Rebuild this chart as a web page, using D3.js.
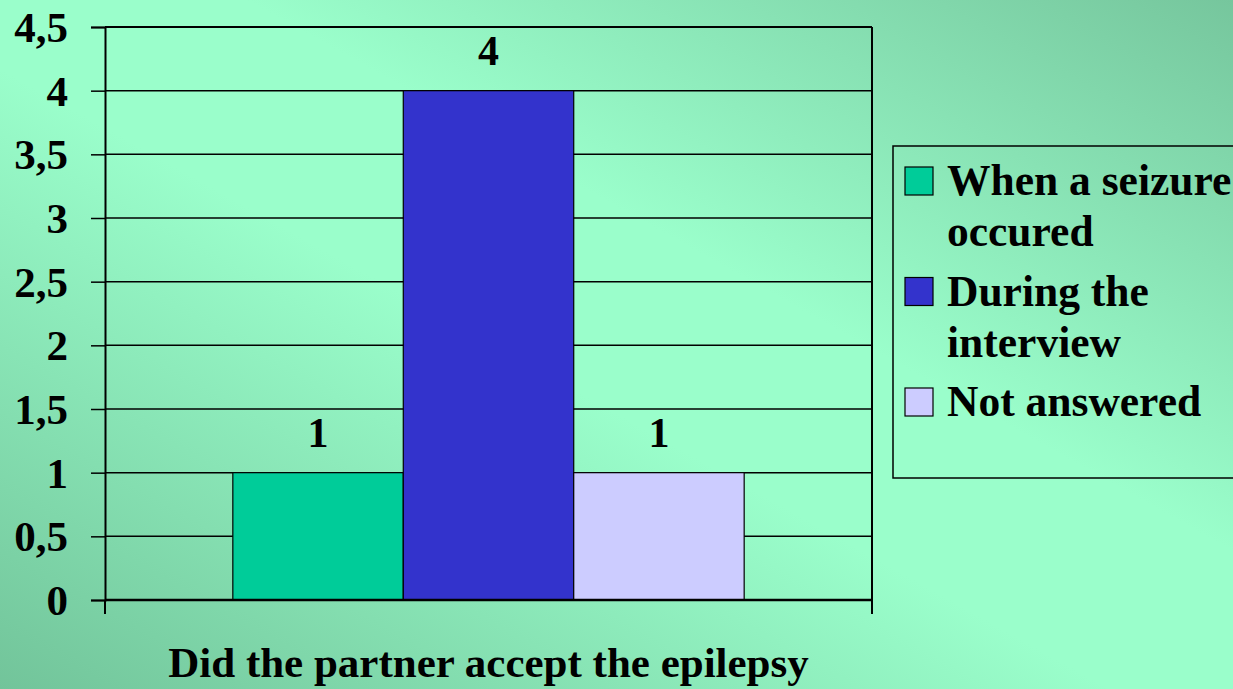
<!DOCTYPE html>
<html>
<head>
<meta charset="utf-8">
<script src="https://cdn.jsdelivr.net/npm/d3@7"></script>
<style>
  html, body { margin: 0; padding: 0; overflow: hidden; }
</style>
</head>
<body>
<svg id="chart" width="1233" height="689"></svg>
<script>
// chart data
var category = ["Did the partner accept the epilepsy"];
var seriesNames = [["When a seizure", "occured"], ["During the", "interview"], ["Not answered"]];
var seriesValues = [1, 4, 1];
var seriesColors = ["#00CC99", "#3333CC", "#CCCCFF"];
var yTicks = [0, 0.5, 1, 1.5, 2, 2.5, 3, 3.5, 4, 4.5];

var width = 1233, height = 689;
var margin = {left: 105, right: 361, top: 27, bottom: 89};
var fontFam = "Liberation Serif";

var svg = d3.select("#chart");

// slide background, darker toward bottom-left and top-right corners
var defs = svg.append("defs");
var grad = defs.append("linearGradient")
    .attr("id", "bg")
    .attr("x1", 0).attr("y1", 1)
    .attr("x2", 1).attr("y2", 0);
grad.append("stop").attr("offset", 0).attr("stop-color", "#72C49A");
grad.append("stop").attr("offset", 0.45).attr("stop-color", "#9AFECB");
grad.append("stop").attr("offset", 0.6).attr("stop-color", "#9AFECB");
grad.append("stop").attr("offset", 1).attr("stop-color", "#76C69D");

svg.append("rect")
    .attr("width", width).attr("height", height)
    .attr("fill", "url(#bg)");

var y = d3.scaleLinear()
    .domain([0, 4.5])
    .range([height - margin.bottom, margin.top]);

var xCat = d3.scaleBand()
    .domain(category)
    .range([margin.left, width - margin.right]);

var names = seriesNames.map(function(d) { return d.join(" "); });

var xSer = d3.scaleBand()
    .domain(names)
    .range([0, xCat.bandwidth()])
    .paddingInner(0)
    .paddingOuter(0.75);

// gridlines
svg.append("g")
    .selectAll("line")
    .data(yTicks.slice(1))
    .join("line")
    .attr("x1", margin.left)
    .attr("x2", width - margin.right)
    .attr("y1", function(d) { return y(d); })
    .attr("y2", function(d) { return y(d); })
    .attr("stroke", "#000")
    .attr("stroke-width", function(d) { return d === 4.5 ? 2 : 1.5; });

// right border of plot area
svg.append("line")
    .attr("x1", width - margin.right).attr("x2", width - margin.right)
    .attr("y1", y(4.5)).attr("y2", y(0))
    .attr("stroke", "#000").attr("stroke-width", 2);

// bars
var cat = category[0];
svg.append("g")
    .selectAll("rect")
    .data(seriesValues)
    .join("rect")
    .attr("x", function(d, i) { return xCat(cat) + xSer(names[i]); })
    .attr("y", function(d) { return y(d); })
    .attr("width", xSer.bandwidth())
    .attr("height", function(d) { return y(0) - y(d); })
    .attr("fill", function(d, i) { return seriesColors[i]; })
    .attr("stroke", "#000")
    .attr("stroke-width", 1.2);

// data labels
svg.append("g")
    .attr("font-family", fontFam)
    .attr("font-weight", "bold")
    .attr("font-size", 42)
    .selectAll("text")
    .data(seriesValues)
    .join("text")
    .attr("x", function(d, i) { return xCat(cat) + xSer(names[i]) + xSer.bandwidth() / 2; })
    .attr("y", function(d) { return y(d) - 26; })
    .attr("text-anchor", "middle")
    .text(function(d) { return d; });

// y axis
var yAxis = d3.axisLeft(y)
    .tickValues(yTicks)
    .tickSize(14)
    .tickPadding(23)
    .tickFormat(function(d) { return String(d).replace(".", ","); });

var gy = svg.append("g")
    .attr("transform", "translate(" + margin.left + ",0)")
    .call(yAxis)
    .attr("font-family", fontFam)
    .attr("font-weight", "bold")
    .attr("font-size", 43);
gy.select(".domain").attr("stroke", "#000").attr("stroke-width", 2);
gy.selectAll(".tick line").attr("stroke", "#000").attr("stroke-width", 1.5);
gy.selectAll(".tick text")
    .attr("fill", "#000")
    .attr("dy", "0.34em");

// x axis (category ticks at band edges)
svg.append("line")
    .attr("x1", margin.left).attr("x2", width - margin.right)
    .attr("y1", y(0)).attr("y2", y(0))
    .attr("stroke", "#000").attr("stroke-width", 2.5);

svg.append("g")
    .selectAll("line")
    .data([xCat(cat), xCat(cat) + xCat.bandwidth()])
    .join("line")
    .attr("x1", function(d) { return d; })
    .attr("x2", function(d) { return d; })
    .attr("y1", y(0))
    .attr("y2", y(0) + 14)
    .attr("stroke", "#000")
    .attr("stroke-width", 2);

svg.append("text")
    .attr("x", xCat(cat) + xCat.bandwidth() / 2)
    .attr("y", 677)
    .attr("text-anchor", "middle")
    .attr("font-family", fontFam)
    .attr("font-weight", "bold")
    .attr("font-size", 43)
    .text(cat);

// legend
var legend = svg.append("g").attr("transform", "translate(893,146)");
legend.append("rect")
    .attr("width", 360).attr("height", 332)
    .attr("fill", "none")
    .attr("stroke", "#000")
    .attr("stroke-width", 1.5);

var item = legend.selectAll("g.item")
    .data(seriesNames)
    .join("g")
    .attr("class", "item")
    .attr("transform", function(d, i) { return "translate(0," + (49 + i * 110.5) + ")"; });

item.append("rect")
    .attr("x", 12).attr("y", -28)
    .attr("width", 28).attr("height", 28)
    .attr("fill", function(d, i) { return seriesColors[i]; })
    .attr("stroke", "#000")
    .attr("stroke-width", 1.2);

item.append("text")
    .attr("font-family", fontFam)
    .attr("font-weight", "bold")
    .attr("font-size", 43.5)
    .selectAll("tspan")
    .data(function(d) { return d; })
    .join("tspan")
    .attr("x", 54)
    .attr("y", function(d, i) { return i * 51; })
    .text(function(d) { return d; });
</script>
</body>
</html>
